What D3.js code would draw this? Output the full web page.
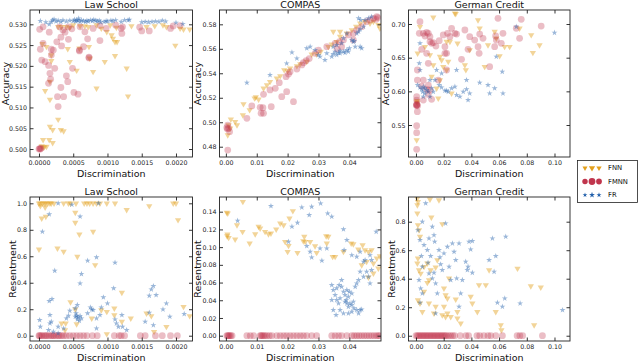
<!DOCTYPE html>
<html>
<head>
<meta charset="utf-8">
<script src="https://cdn.jsdelivr.net/npm/d3@7"></script>
<style>
  html, body { margin: 0; padding: 0; background: #fff; }
  svg { display: block; }
</style>
</head>
<body>
<script>
// ---- data ----
const seriesNames = ["FNN", "FMNN", "FR"];
const titles = ["Law School", "COMPAS", "German Credit"];

const lawXTicks = [0, 0.0005, 0.001, 0.0015, 0.002];
const compasXTicks = [0, 0.01, 0.02, 0.03, 0.04];
const germanXTicks = [0, 0.02, 0.04, 0.06, 0.08, 0.1];
const lawAccTicks = [0.5, 0.505, 0.51, 0.515, 0.52, 0.525, 0.53];
const compasAccTicks = [0.48, 0.5, 0.52, 0.54, 0.56, 0.58];
const germanAccTicks = [0.55, 0.6, 0.65, 0.7];
const lawResTicks = [0, 0.2, 0.4, 0.6, 0.8, 1.0];
const compasResTicks = [0, 0.02, 0.04, 0.06, 0.08, 0.1, 0.12, 0.14];
const germanResTicks = [0, 0.2, 0.4, 0.6, 0.8];

// Law School - accuracy
const lawAccFNN = [[0.00006,0.5004],[0.00011,0.5006],[0.00004,0.5007],[0.00008,0.5005],[0.00006,0.5022],[0.00015,0.5022],[0.00020,0.5015],[0.00016,0.5054],[0.00020,0.5046],[0.00028,0.5071],[0.00032,0.5046],[0.00036,0.5043],[0.00016,0.5119],[0.00009,0.5140],[0.00016,0.5162],[0.00018,0.5212],[0.00018,0.5226],[0.00005,0.5253],[0.00011,0.5246],[0.00042,0.5241],[0.00045,0.5210],[0.00055,0.5189],[0.00059,0.5242],[0.00073,0.5246],[0.00074,0.5218],[0.00079,0.5186],[0.00084,0.5146],[0.00096,0.5210],[0.00111,0.5224],[0.00128,0.5194],[0.00130,0.5127],[0.00099,0.5282],[0.00106,0.5274],[0.00108,0.5266],[0.00111,0.5258],[0.00114,0.5258],[0.00199,0.5249],[0.00028,0.5294],[0.00033,0.5294],[0.00040,0.5294],[0.00045,0.5292],[0.00050,0.5298],[0.00060,0.5296],[0.00067,0.5296],[0.00072,0.5294],[0.00084,0.5298],[0.00091,0.5290],[0.00104,0.5298],[0.00113,0.5292],[0.00135,0.5296],[0.00157,0.5294],[0.00169,0.5296],[0.00181,0.5298],[0.00186,0.5294],[0.00206,0.5290],[0.00211,0.5288],[0.00220,0.5288]];
const lawAccFMNN = [[0.00000,0.5000],[0.00001,0.5001],[0.00002,0.5000],[0.00003,0.5002],[0.00001,0.5288],[0.00002,0.5240],[0.00004,0.5214],[0.00006,0.5294],[0.00006,0.5254],[0.00009,0.5210],[0.00014,0.5201],[0.00014,0.5158],[0.00016,0.5182],[0.00017,0.5168],[0.00015,0.5281],[0.00018,0.5240],[0.00021,0.5238],[0.00018,0.5226],[0.00023,0.5194],[0.00026,0.5258],[0.00027,0.5126],[0.00028,0.5102],[0.00030,0.5294],[0.00032,0.5269],[0.00033,0.5248],[0.00032,0.5148],[0.00036,0.5126],[0.00038,0.5281],[0.00040,0.5176],[0.00042,0.5162],[0.00043,0.5264],[0.00048,0.5289],[0.00049,0.5194],[0.00051,0.5136],[0.00057,0.5132],[0.00059,0.5238],[0.00059,0.5236],[0.00060,0.5294],[0.00065,0.5246],[0.00067,0.5282],[0.00071,0.5265],[0.00073,0.5221],[0.00073,0.5219],[0.00079,0.5290],[0.00089,0.5297],[0.00089,0.5261],[0.00098,0.5290],[0.00112,0.5298],[0.00120,0.5290],[0.00121,0.5278],[0.00122,0.5294],[0.00147,0.5293],[0.00150,0.5284],[0.00161,0.5284],[0.00192,0.5290],[0.00196,0.5296],[0.00206,0.5297],[0.00043,0.5294],[0.00035,0.5286]];
const lawAccFR = [[0.00002,0.5308],[0.00010,0.5305],[0.00015,0.5300],[0.00018,0.5306],[0.00020,0.5310],[0.00022,0.5312],[0.00025,0.5307],[0.00028,0.5309],[0.00032,0.5306],[0.00035,0.5310],[0.00040,0.5307],[0.00045,0.5309],[0.00050,0.5308],[0.00052,0.5311],[0.00054,0.5307],[0.00055,0.5310],[0.00057,0.5309],[0.00058,0.5314],[0.00060,0.5306],[0.00062,0.5310],[0.00065,0.5308],[0.00068,0.5306],[0.00070,0.5309],[0.00072,0.5307],[0.00075,0.5310],[0.00078,0.5308],[0.00080,0.5311],[0.00083,0.5309],[0.00085,0.5307],[0.00088,0.5309],[0.00090,0.5305],[0.00095,0.5306],[0.00098,0.5308],[0.00100,0.5307],[0.00105,0.5309],[0.00108,0.5308],[0.00112,0.5310],[0.00120,0.5306],[0.00125,0.5310],[0.00130,0.5310],[0.00132,0.5311],[0.00150,0.5305],[0.00155,0.5306],[0.00160,0.5305],[0.00165,0.5306],[0.00170,0.5307],[0.00175,0.5306],[0.00180,0.5309],[0.00185,0.5307],[0.00200,0.5304],[0.00210,0.5301]];

// COMPAS - accuracy
const compasAccFNN = [[0.0009,0.4977],[0.0006,0.4895],[0.0014,0.4950],[0.0016,0.5023],[0.0030,0.5004],[0.0036,0.4977],[0.0055,0.5059],[0.0057,0.5149],[0.0077,0.5100],[0.0093,0.5196],[0.0106,0.5187],[0.0097,0.5205],[0.0122,0.5277],[0.0133,0.5304],[0.0143,0.5331],[0.0165,0.5359],[0.0176,0.5378],[0.0189,0.5427],[0.0200,0.5419],[0.0208,0.5440],[0.0230,0.5460],[0.0241,0.5476],[0.0262,0.5495],[0.0278,0.5555],[0.0294,0.5557],[0.0307,0.5577],[0.0332,0.5617],[0.0343,0.5637],[0.0359,0.5658],[0.0370,0.5699],[0.0392,0.5726],[0.0408,0.5754],[0.0422,0.5781],[0.0435,0.5808],[0.0451,0.5822],[0.0467,0.5808],[0.0478,0.5822],[0.0499,0.5767],[0.0494,0.5795],[0.0348,0.5740],[0.0370,0.5740]];
const compasAccFMNN = [[0.0009,0.4950],[0.0005,0.4945],[0.0003,0.4955],[0.0006,0.4977],[0.0012,0.4923],[0.0006,0.4773],[0.0068,0.5032],[0.0084,0.5133],[0.0111,0.5122],[0.0114,0.5073],[0.0122,0.5073],[0.0120,0.5119],[0.0122,0.5228],[0.0147,0.5127],[0.0143,0.5264],[0.0160,0.5277],[0.0173,0.5323],[0.0181,0.5209],[0.0197,0.5250],[0.0219,0.5168],[0.0195,0.5372],[0.0203,0.5394],[0.0208,0.5413],[0.0230,0.5435],[0.0246,0.5468],[0.0251,0.5487],[0.0260,0.5503],[0.0289,0.5563],[0.0300,0.5590],[0.0327,0.5617],[0.0354,0.5645],[0.0368,0.5658],[0.0381,0.5672],[0.0397,0.5713],[0.0413,0.5726],[0.0424,0.5754],[0.0440,0.5781],[0.0456,0.5822],[0.0467,0.5835],[0.0478,0.5849],[0.0489,0.5863],[0.0492,0.5855],[0.0486,0.5840],[0.0413,0.5672],[0.0375,0.5617],[0.0360,0.5600],[0.0270,0.5520]];
const compasAccFR = [[0.0068,0.5323],[0.0143,0.5386],[0.0197,0.5481],[0.0214,0.5571],[0.0230,0.5522],[0.0262,0.5604],[0.0273,0.5617],[0.0289,0.5590],[0.0305,0.5536],[0.0327,0.5563],[0.0343,0.5536],[0.0348,0.5557],[0.0354,0.5577],[0.0365,0.5568],[0.0370,0.5585],[0.0381,0.5577],[0.0392,0.5590],[0.0397,0.5577],[0.0400,0.5604],[0.0348,0.5617],[0.0359,0.5631],[0.0375,0.5645],[0.0408,0.5672],[0.0413,0.5658],[0.0416,0.5665],[0.0419,0.5617],[0.0435,0.5617],[0.0440,0.5604],[0.0424,0.5726],[0.0430,0.5740],[0.0435,0.5759],[0.0446,0.5781],[0.0430,0.5849],[0.0437,0.5835],[0.0451,0.5835],[0.0462,0.5849],[0.0472,0.5863],[0.0381,0.5686],[0.0392,0.5726],[0.0321,0.5508],[0.0300,0.5550],[0.0359,0.5550],[0.0370,0.5563],[0.0386,0.5568]];

// German Credit - accuracy
const germanAccFNN = [[0.0005,0.5847],[0.0010,0.5830],[0.0008,0.5860],[0.0005,0.5277],[0.0012,0.6564],[0.0029,0.6960],[0.0101,0.6540],[0.0125,0.7099],[0.0221,0.6738],[0.0245,0.6738],[0.0281,0.7158],[0.0287,0.7150],[0.0300,0.6713],[0.0173,0.6515],[0.0185,0.6465],[0.0113,0.6218],[0.0149,0.6045],[0.0161,0.5896],[0.0125,0.6391],[0.0233,0.6441],[0.0360,0.6317],[0.0353,0.6391],[0.0388,0.6614],[0.0448,0.7059],[0.0460,0.6936],[0.0496,0.6366],[0.0520,0.6688],[0.0568,0.6886],[0.0580,0.6787],[0.0604,0.6525],[0.0640,0.6663],[0.0676,0.6663],[0.0748,0.6936],[0.0832,0.6837],[0.0844,0.6574],[0.0892,0.6688],[0.0065,0.6663],[0.0221,0.6317],[0.0197,0.6366],[0.0173,0.6168],[0.0257,0.5970]];
const germanAccFMNN = [[0.0005,0.5797],[0.0003,0.5790],[0.0008,0.5800],[0.0012,0.5785],[0.0005,0.5810],[0.0005,0.5871],[0.0005,0.5921],[0.0010,0.5698],[0.0005,0.5490],[0.0005,0.5386],[0.0005,0.5139],[0.0010,0.6317],[0.0010,0.6168],[0.0029,0.7035],[0.0024,0.6861],[0.0053,0.6861],[0.0065,0.6822],[0.0077,0.6876],[0.0089,0.6861],[0.0101,0.6812],[0.0041,0.6624],[0.0077,0.6564],[0.0101,0.6738],[0.0113,0.6713],[0.0125,0.6723],[0.0053,0.6168],[0.0041,0.6079],[0.0077,0.6030],[0.0101,0.6020],[0.0089,0.6094],[0.0113,0.5881],[0.0053,0.5871],[0.0089,0.5955],[0.0144,0.6673],[0.0168,0.6752],[0.0197,0.6837],[0.0209,0.6663],[0.0221,0.6564],[0.0228,0.6861],[0.0245,0.6812],[0.0257,0.6936],[0.0281,0.6861],[0.0293,0.6851],[0.0161,0.6168],[0.0221,0.6317],[0.0209,0.6564],[0.0329,0.6475],[0.0353,0.6911],[0.0376,0.6624],[0.0388,0.6812],[0.0424,0.6762],[0.0448,0.6663],[0.0456,0.6564],[0.0460,0.6851],[0.0484,0.6787],[0.0532,0.6366],[0.0592,0.7084],[0.0568,0.6663],[0.0580,0.6762],[0.0575,0.6822],[0.0616,0.6713],[0.0628,0.6861],[0.0724,0.6936],[0.0748,0.6787],[0.0760,0.7069],[0.0904,0.6970],[0.0089,0.6416]];
const germanAccFR = [[0.0029,0.6713],[0.0024,0.6416],[0.0029,0.6317],[0.0012,0.6094],[0.0029,0.6059],[0.0041,0.6030],[0.0053,0.6069],[0.0065,0.6045],[0.0048,0.5995],[0.0065,0.5970],[0.0077,0.6020],[0.0089,0.5995],[0.0113,0.6045],[0.0125,0.5995],[0.0137,0.6168],[0.0101,0.6168],[0.0168,0.6094],[0.0185,0.6059],[0.0209,0.6010],[0.0221,0.6010],[0.0233,0.5995],[0.0257,0.6045],[0.0281,0.6069],[0.0293,0.5946],[0.0317,0.5921],[0.0341,0.5995],[0.0365,0.6030],[0.0376,0.5871],[0.0388,0.5970],[0.0293,0.6317],[0.0365,0.6168],[0.0460,0.6129],[0.0520,0.6094],[0.0568,0.6045],[0.0532,0.5970],[0.0628,0.5970],[0.0580,0.6515],[0.0623,0.6292],[0.0724,0.6960],[0.1000,0.6871],[0.0149,0.6317],[0.0185,0.6267],[0.0053,0.5921],[0.0101,0.5921]];

// Law School - resentment
const lawResFNN = [[0.00000,1.0],[0.00002,1.0],[0.00005,1.0],[0.00008,1.0],[0.00010,1.0],[0.00013,1.0],[0.00016,1.0],[0.00018,1.0],[0.00022,1.0],[0.00036,1.0],[0.00043,1.0],[0.00046,1.0],[0.00054,1.0],[0.00066,1.0],[0.00070,1.0],[0.00074,1.0],[0.00079,1.0],[0.00084,1.0],[0.00089,1.0],[0.00099,1.0],[0.00111,1.0],[0.00196,1.0],[0.00200,1.0],[0.00002,0.98],[0.00009,0.97],[0.00004,0.887],[0.00010,0.90],[0.00053,0.93],[0.00053,0.854],[0.00059,0.766],[0.00079,0.786],[0.00128,0.95],[0.00161,0.98],[0.00203,0.874],[0.00000,0.652],[0.00027,0.66],[0.00036,0.635],[0.00056,0.597],[0.00082,0.534],[0.00121,0.325],[0.00046,0.254],[0.00039,0.093],[0.00053,0.199],[0.00077,0.131],[0.00091,0.194],[0.00099,0.181],[0.00110,0.207],[0.00110,0.156],[0.00121,0.106],[0.00134,0.131],[0.00157,0.169],[0.00164,0.149],[0.00168,0.03],[0.00186,0.068],[0.00211,0.219],[0.00220,0.149],[0.00099,0.013],[0.00038,0.043],[0.00033,0.093],[0.00055,0.088]];
const lawResFMNN = [[0.00000,0],[0.00001,0],[0.00003,0],[0.00005,0],[0.00008,0],[0.00010,0],[0.00012,0],[0.00015,0],[0.00018,0],[0.00020,0],[0.00022,0],[0.00025,0],[0.00028,0],[0.00030,0],[0.00033,0],[0.00036,0],[0.00040,0],[0.00045,0],[0.00050,0],[0.00055,0],[0.00060,0],[0.00065,0],[0.00070,0],[0.00078,0],[0.00085,0],[0.00110,0],[0.00117,0],[0.00120,0],[0.00125,0],[0.00148,0],[0.00155,0],[0.00170,0],[0.00180,0],[0.00192,0],[0.00202,0]];
const lawResFR = [[0.00001,0.118],[0.00002,0.068],[0.00014,0.043],[0.00016,0.093],[0.00018,0.106],[0.00016,0.156],[0.00015,0.262],[0.00019,0.277],[0.00021,0.03],[0.00023,0.491],[0.00015,0.917],[0.00005,0.786],[0.00028,1.0],[0.00048,0.99],[0.00060,0.90],[0.00053,0.207],[0.00028,0.068],[0.00036,0.055],[0.00040,0.131],[0.00043,0.151],[0.00045,0.189],[0.00053,0.144],[0.00055,0.151],[0.00057,0.139],[0.00060,0.149],[0.00062,0.131],[0.00056,0.123],[0.00054,0.169],[0.00059,0.113],[0.00056,0.232],[0.00060,0.395],[0.00062,0.466],[0.00071,0.567],[0.00084,0.592],[0.00071,0.169],[0.00075,0.214],[0.00077,0.199],[0.00079,0.194],[0.00084,0.131],[0.00084,0.055],[0.00089,0.156],[0.00091,0.214],[0.00094,0.29],[0.00100,0.244],[0.00087,1.0],[0.00111,0.552],[0.00109,0.358],[0.00111,0.123],[0.00113,0.093],[0.00116,0.068],[0.00121,0.156],[0.00122,0.068],[0.00128,0.043],[0.00155,0.106],[0.00161,0.302],[0.00164,0.35],[0.00167,0.375],[0.00171,0.307],[0.00161,0.174],[0.00167,0.08],[0.00181,0.199],[0.00186,0.244],[0.00191,0.144],[0.00212,0.164],[0.00028,0.018]];

// COMPAS - resentment
const compasResFNN = [[0.0003,0.1389],[0.0006,0.1381],[0.0005,0.1144],[0.0009,0.1106],[0.0004,0.1125],[0.0030,0.1088],[0.0036,0.1249],[0.0054,0.1174],[0.0055,0.1513],[0.0077,0.1042],[0.0095,0.1148],[0.0106,0.1231],[0.0111,0.1212],[0.0127,0.1174],[0.0138,0.1148],[0.0146,0.1155],[0.0163,0.1201],[0.0176,0.1268],[0.0187,0.1249],[0.0192,0.1061],[0.0200,0.0948],[0.0203,0.1016],[0.0206,0.1325],[0.0217,0.1408],[0.0232,0.0937],[0.0251,0.1069],[0.0257,0.1061],[0.0254,0.1118],[0.0273,0.1061],[0.0289,0.1012],[0.0294,0.0937],[0.0325,0.1125],[0.0332,0.1118],[0.0327,0.1042],[0.0346,0.0892],[0.0354,0.0892],[0.0381,0.0948],[0.0406,0.1042],[0.0413,0.1035],[0.0429,0.0975],[0.0443,0.1023],[0.0451,0.0967],[0.0462,0.0948],[0.0472,0.0967],[0.0440,0.0798],[0.0456,0.0835],[0.0478,0.0817],[0.0489,0.0873],[0.0499,0.0899],[0.0494,0.0760],[0.0478,0.0704],[0.0462,0.0659]];
const compasResFMNN = [[0.0003,0],[0.0006,0],[0.0009,0],[0.0012,0],[0.0016,0],[0.0020,0],[0.0068,0],[0.0079,0],[0.0090,0],[0.0111,0],[0.0114,0],[0.0118,0],[0.0122,0],[0.0127,0],[0.0133,0],[0.0141,0],[0.0149,0],[0.0165,0],[0.0176,0],[0.0187,0],[0.0197,0],[0.0208,0],[0.0219,0],[0.0230,0],[0.0241,0],[0.0251,0],[0.0262,0],[0.0278,0],[0.0294,0],[0.0343,0],[0.0354,0],[0.0365,0],[0.0375,0],[0.0392,0],[0.0408,0],[0.0416,0],[0.0424,0],[0.0432,0],[0.0440,0],[0.0448,0],[0.0456,0],[0.0464,0],[0.0472,0],[0.0480,0],[0.0488,0],[0.0494,0],[0.0499,0]];
const compasResFR = [[0.0038,0.1298],[0.0146,0.1464],[0.0214,0.1231],[0.0232,0.1276],[0.0246,0.1449],[0.0270,0.1362],[0.0278,0.1456],[0.0307,0.1494],[0.0330,0.1381],[0.0343,0.1344],[0.0203,0.1061],[0.0262,0.1012],[0.0273,0.0948],[0.0278,0.0884],[0.0305,0.0986],[0.0311,0.0847],[0.0327,0.0986],[0.0381,0.1201],[0.0383,0.0967],[0.0392,0.1080],[0.0408,0.0910],[0.0424,0.0892],[0.0435,0.0948],[0.0446,0.0835],[0.0451,0.0854],[0.0467,0.0910],[0.0472,0.0854],[0.0487,0.1174],[0.0343,0.0572],[0.0348,0.0516],[0.0354,0.0459],[0.0359,0.0403],[0.0365,0.0365],[0.0357,0.0233],[0.0370,0.0290],[0.0375,0.0628],[0.0381,0.0497],[0.0386,0.0459],[0.0390,0.0403],[0.0392,0.0365],[0.0397,0.0327],[0.0397,0.0440],[0.0402,0.0365],[0.0408,0.0346],[0.0413,0.0384],[0.0415,0.0309],[0.0424,0.0290],[0.0435,0.0290],[0.0440,0.0297],[0.0430,0.0252],[0.0381,0.0252],[0.0397,0.0252],[0.0408,0.0271],[0.0424,0.0591],[0.0430,0.0628],[0.0446,0.0666],[0.0456,0.0723],[0.0462,0.0666],[0.0467,0.0591],[0.0472,0.0741],[0.0435,0.0723],[0.0419,0.0553],[0.0343,0.0403],[0.0348,0.0290],[0.0359,0.0535],[0.0367,0.0572],[0.0375,0.0553],[0.0392,0.0516],[0.0400,0.0497],[0.0408,0.0478],[0.0370,0.0422],[0.0386,0.0384]];

// German Credit - resentment
const germanResFNN = [[0.0010,0.964],[0.0014,0.94],[0.0010,0.917],[0.0010,0.858],[0.0014,0.777],[0.0022,0.741],[0.0029,0.695],[0.0101,0.957],[0.0166,0.952],[0.0111,0.83],[0.0190,0.784],[0.0014,0.543],[0.0010,0.508],[0.0022,0.461],[0.0034,0.437],[0.0058,0.484],[0.0082,0.508],[0.0106,0.461],[0.0142,0.48],[0.0014,0.25],[0.0029,0.227],[0.0046,0.168],[0.0058,0.309],[0.0082,0.372],[0.0094,0.391],[0.0130,0.157],[0.0154,0.531],[0.0202,0.332],[0.0214,0.285],[0.0227,0.262],[0.0202,0.204],[0.0227,0.157],[0.0251,0.133],[0.0239,0.402],[0.0287,0.255],[0.0299,0.168],[0.0299,0.122],[0.0323,0.087],[0.0395,0.274],[0.0407,0.227],[0.0443,0.168],[0.0455,0.356],[0.0504,0.356],[0.0528,0.461],[0.0576,0.168],[0.0612,0.075],[0.0617,0.04],[0.0733,0.472],[0.0829,0.348],[0.0853,0.075],[0.0901,0.339],[0.0094,0.227],[0.0142,0.204],[0.0190,0.145],[0.0214,0.133]];
const germanResFMNN = [[0.0000,0],[0.0010,0],[0.0020,0],[0.0030,0],[0.0040,0],[0.0050,0],[0.0060,0],[0.0070,0],[0.0080,0],[0.0090,0],[0.0100,0],[0.0110,0],[0.0120,0],[0.0130,0],[0.0140,0],[0.0150,0],[0.0160,0],[0.0170,0],[0.0180,0],[0.0190,0],[0.0200,0],[0.0210,0],[0.0220,0],[0.0235,0],[0.0250,0],[0.0265,0],[0.0280,0],[0.0320,0],[0.0360,0],[0.0380,0],[0.0440,0],[0.0460,0],[0.0490,0],[0.0520,0],[0.0540,0],[0.0576,0],[0.0624,0],[0.0730,0],[0.0750,0],[0.0770,0],[0.0913,0]];
const germanResFR = [[0.0014,0.741],[0.0029,0.671],[0.0039,0.559],[0.0046,0.484],[0.0022,0.391],[0.0034,0.332],[0.0046,0.297],[0.0029,0.232],[0.0070,0.929],[0.0082,0.601],[0.0087,0.512],[0.0094,0.683],[0.0106,0.559],[0.0118,0.765],[0.0130,0.706],[0.0135,0.66],[0.0046,0.80],[0.0058,0.636],[0.0094,0.437],[0.0118,0.402],[0.0130,0.442],[0.0142,0.367],[0.0142,0.157],[0.0154,0.297],[0.0166,0.601],[0.0173,0.55],[0.0178,0.501],[0.0190,0.461],[0.0202,0.578],[0.0214,0.788],[0.0227,0.624],[0.0239,0.484],[0.0251,0.391],[0.0263,0.648],[0.0275,0.589],[0.0287,0.531],[0.0294,0.402],[0.0311,0.648],[0.0323,0.297],[0.0335,0.391],[0.0359,0.519],[0.0371,0.461],[0.0383,0.66],[0.0407,0.664],[0.0395,0.606],[0.0376,0.484],[0.0528,0.531],[0.0552,0.683],[0.0564,0.449],[0.0576,0.559],[0.0648,0.695],[0.0641,0.262],[0.0588,0.232],[0.0624,0.204],[0.0752,0.227],[0.1058,0.18],[0.0407,0.442],[0.0311,0.204]];

// ---- layout ----
const width = 640;
const height = 363;
const FONT = "'DejaVu Sans', sans-serif";

const colors = { FNN: "#e3a01c", FMNN: "#c0354d", FR: "#2260ab" };
const alphas = { FNN: 0.45, FMNN: 0.32, FR: 0.45 };

const cols = [[30, 192.5], [219.5, 381], [408.5, 570]];
const rows = [[10, 157], [197, 341]];

const panels = [
  { row: 0, col: 0, ylabel: "Accuracy", ylabelX: 5.5, xDomain: [-0.000131, 0.002241], yDomain: [0.49808, 0.53344], xTicks: lawXTicks, xFmt: ".4f", yTicks: lawAccTicks, yFmt: ".3f", data: { FNN: lawAccFNN, FMNN: lawAccFMNN, FR: lawAccFR } },
  { row: 0, col: 1, ylabel: "Accuracy", ylabelX: 197.5, xDomain: [-0.00207, 0.05026], yDomain: [0.4716, 0.5917], xTicks: compasXTicks, xFmt: ".2f", yTicks: compasAccTicks, yFmt: ".2f", data: { FNN: compasAccFNN, FMNN: compasAccFMNN, FR: compasAccFR } },
  { row: 0, col: 2, ylabel: "Accuracy", ylabelX: 386, xDomain: [-0.0054, 0.1112], yDomain: [0.5025, 0.7208], xTicks: germanXTicks, xFmt: ".2f", yTicks: germanAccTicks, yFmt: ".2f", data: { FNN: germanAccFNN, FMNN: germanAccFMNN, FR: germanAccFR } },
  { row: 1, col: 0, ylabel: "Resentment", ylabelX: 12.5, xDomain: [-0.000131, 0.002241], yDomain: [-0.040, 1.0476], xTicks: lawXTicks, xFmt: ".4f", yTicks: lawResTicks, yFmt: ".1f", data: { FNN: lawResFNN, FMNN: lawResFMNN, FR: lawResFR } },
  { row: 1, col: 1, ylabel: "Resentment", ylabelX: 197.5, xDomain: [-0.00207, 0.05026], yDomain: [-0.006, 0.1566], xTicks: compasXTicks, xFmt: ".2f", yTicks: compasResTicks, yFmt: ".2f", data: { FNN: compasResFNN, FMNN: compasResFMNN, FR: compasResFR } },
  { row: 1, col: 2, ylabel: "Resentment", ylabelX: 392, xDomain: [-0.0054, 0.1112], yDomain: [-0.037, 0.9733], xTicks: germanXTicks, xFmt: ".2f", yTicks: germanResTicks, yFmt: ".1f", data: { FNN: germanResFNN, FMNN: germanResFMNN, FR: germanResFR } }
];

// marker shapes: down triangle, circle, star
const symbolPath = {
  FNN: d3.symbol().type(d3.symbolTriangle).size(17)(),
  FMNN: d3.symbol().type(d3.symbolCircle).size(36)(),
  FR: d3.symbol().type(d3.symbolStar).size(11)()
};
const symbolRotate = { FNN: 180, FMNN: 0, FR: 0 };

const svg = d3
  .select("body")
  .append("svg")
  .attr("width", width)
  .attr("height", height)
  .style("font-family", FONT);

svg.append("rect").attr("width", width).attr("height", height).attr("fill", "#fff");

panels.forEach((p, i) => {
  const [x0, x1] = cols[p.col];
  const [y0, y1] = rows[p.row];

  const x = d3.scaleLinear().domain(p.xDomain).range([x0, x1]);
  const y = d3.scaleLinear().domain(p.yDomain).range([y1, y0]);

  svg
    .append("clipPath")
    .attr("id", "clip" + i)
    .append("rect")
    .attr("x", x0)
    .attr("y", y0)
    .attr("width", x1 - x0)
    .attr("height", y1 - y0);

  // points
  const plot = svg.append("g").attr("clip-path", `url(#clip${i})`);
  seriesNames.forEach((name) => {
    plot
      .selectAll(null)
      .data(p.data[name])
      .enter()
      .append("path")
      .attr("d", symbolPath[name])
      .attr("transform", (d) => `translate(${x(d[0])},${y(d[1])}) rotate(${symbolRotate[name]})`)
      .attr("fill", colors[name])
      .attr("fill-opacity", alphas[name]);
  });

  // axes, ticks pointing inward on all four sides
  const tickStyle = (g) => {
    g.select(".domain").remove();
    g.selectAll(".tick line").attr("stroke", "#000").attr("stroke-width", 0.8);
    g.selectAll(".tick text").attr("font-family", FONT).attr("font-size", 6.3).attr("fill", "#222");
  };

  svg
    .append("g")
    .attr("transform", `translate(0,${y1})`)
    .call(d3.axisBottom(x).tickValues(p.xTicks).tickFormat(d3.format(p.xFmt)).tickSize(-3.5).tickPadding(3.5))
    .call(tickStyle);
  svg
    .append("g")
    .attr("transform", `translate(0,${y0})`)
    .call(d3.axisTop(x).tickValues(p.xTicks).tickFormat("").tickSize(-3.5))
    .call(tickStyle);
  svg
    .append("g")
    .attr("transform", `translate(${x0},0)`)
    .call(d3.axisLeft(y).tickValues(p.yTicks).tickFormat(d3.format(p.yFmt)).tickSize(-3.5).tickPadding(3))
    .call(tickStyle);
  svg
    .append("g")
    .attr("transform", `translate(${x1},0)`)
    .call(d3.axisRight(y).tickValues(p.yTicks).tickFormat("").tickSize(-3.5))
    .call(tickStyle);

  // frame
  svg
    .append("rect")
    .attr("x", x0)
    .attr("y", y0)
    .attr("width", x1 - x0)
    .attr("height", y1 - y0)
    .attr("fill", "none")
    .attr("stroke", "#222")
    .attr("stroke-width", 0.9);

  // title and axis labels
  svg
    .append("text")
    .attr("x", (x0 + x1) / 2)
    .attr("y", y0 - 1.8)
    .attr("text-anchor", "middle")
    .attr("font-size", 9.5)
    .attr("fill", "#111")
    .text(titles[p.col]);

  svg
    .append("text")
    .attr("x", (x0 + x1) / 2)
    .attr("y", y1 + 19.5)
    .attr("text-anchor", "middle")
    .attr("font-size", 9.5)
    .attr("fill", "#111")
    .text("Discrimination");

  svg
    .append("text")
    .attr("transform", `translate(${p.ylabelX},${(y0 + y1) / 2}) rotate(-90)`)
    .attr("dy", "0.35em")
    .attr("text-anchor", "middle")
    .attr("font-size", 9.5)
    .attr("fill", "#111")
    .text(p.ylabel);
});

// legend
const legend = svg.append("g");
legend
  .append("rect")
  .attr("x", 577.5)
  .attr("y", 160.5)
  .attr("width", 60)
  .attr("height", 42)
  .attr("fill", "#fff")
  .attr("stroke", "#222")
  .attr("stroke-width", 0.8);

const legendY = d3.scalePoint().domain(seriesNames).range([168, 195]);
const legendX = [585, 592, 599];
const legendScale = [0.8, 1.0, 0.85];

seriesNames.forEach((name) => {
  legendX.forEach((lx, j) => {
    legend
      .append("path")
      .attr("d", symbolPath[name])
      .attr("transform", `translate(${lx},${legendY(name)}) rotate(${symbolRotate[name]}) scale(${legendScale[j]})`)
      .attr("fill", colors[name]);
  });
  legend
    .append("text")
    .attr("x", 608)
    .attr("y", legendY(name))
    .attr("dy", "0.35em")
    .attr("font-size", 6.8)
    .attr("fill", "#111")
    .text(name);
});
</script>
</body>
</html>
